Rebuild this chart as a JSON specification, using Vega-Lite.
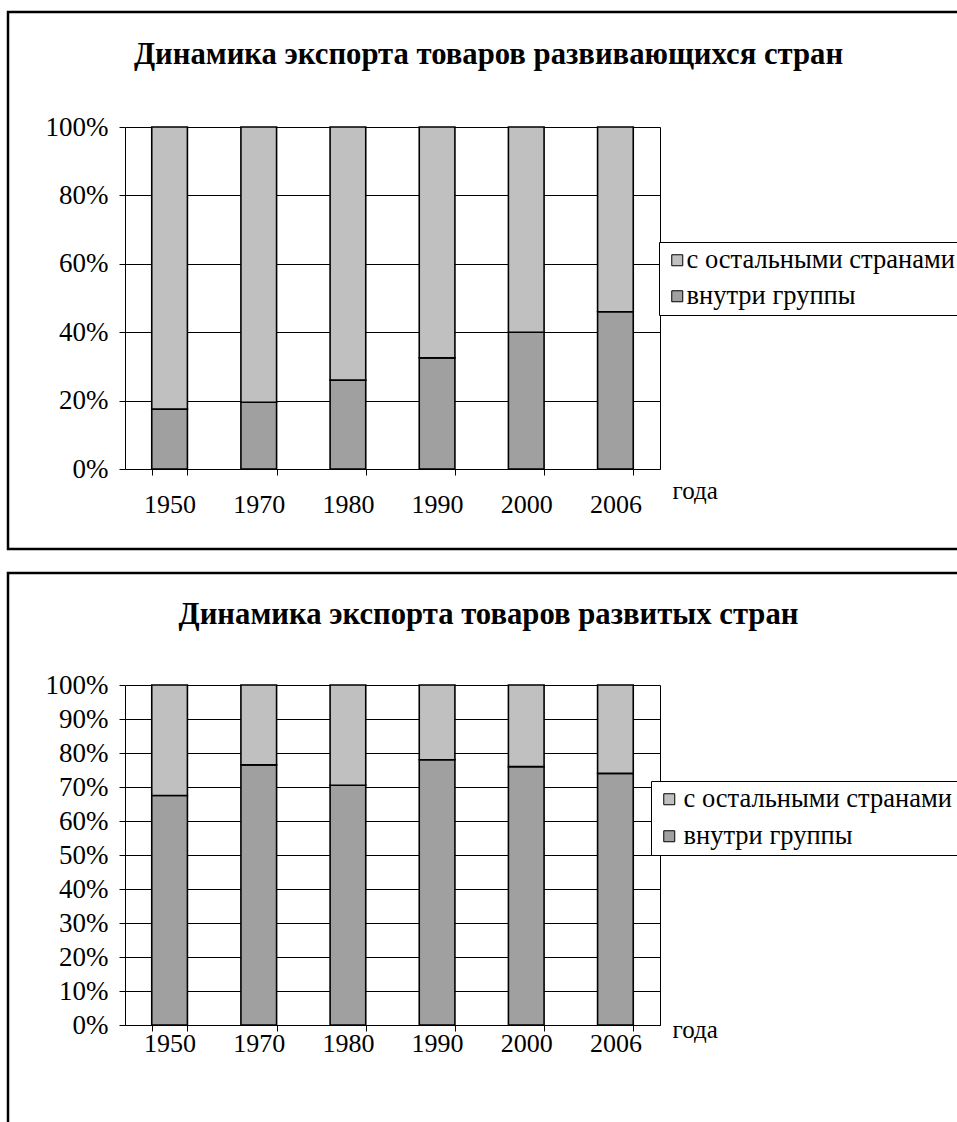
{
  "$schema": "https://vega.github.io/schema/vega-lite/v6.json",
  "padding": {"left": 6, "top": 10, "right": 0, "bottom": 0},
  "background": "#ffffff",
  "spacing": 20,
  "datasets": {
    "developing": [
      {"year": "1950", "series": "внутри группы", "share": 0.175},
      {"year": "1950", "series": "с остальными странами", "share": 0.825},
      {"year": "1970", "series": "внутри группы", "share": 0.195},
      {"year": "1970", "series": "с остальными странами", "share": 0.805},
      {"year": "1980", "series": "внутри группы", "share": 0.26},
      {"year": "1980", "series": "с остальными странами", "share": 0.74},
      {"year": "1990", "series": "внутри группы", "share": 0.325},
      {"year": "1990", "series": "с остальными странами", "share": 0.675},
      {"year": "2000", "series": "внутри группы", "share": 0.40},
      {"year": "2000", "series": "с остальными странами", "share": 0.60},
      {"year": "2006", "series": "внутри группы", "share": 0.46},
      {"year": "2006", "series": "с остальными странами", "share": 0.54}
    ],
    "developed": [
      {"year": "1950", "series": "внутри группы", "share": 0.675},
      {"year": "1950", "series": "с остальными странами", "share": 0.325},
      {"year": "1970", "series": "внутри группы", "share": 0.765},
      {"year": "1970", "series": "с остальными странами", "share": 0.235},
      {"year": "1980", "series": "внутри группы", "share": 0.705},
      {"year": "1980", "series": "с остальными странами", "share": 0.295},
      {"year": "1990", "series": "внутри группы", "share": 0.78},
      {"year": "1990", "series": "с остальными странами", "share": 0.22},
      {"year": "2000", "series": "внутри группы", "share": 0.76},
      {"year": "2000", "series": "с остальными странами", "share": 0.24},
      {"year": "2006", "series": "внутри группы", "share": 0.74},
      {"year": "2006", "series": "с остальными странами", "share": 0.26}
    ]
  },
  "vconcat": [
    {
      "width": 961,
      "height": 537,
      "title": {"text": "Динамика экспорта товаров развивающихся стран", "font": "Liberation Serif", "fontSize": 30.7, "fontWeight": "bold", "color": "#000", "anchor": "middle", "frame": "group", "offset": -59},
      "data": {"name": "developing"},
      "layer": [
        {
          "mark": {"type": "bar", "stroke": "#000", "strokeWidth": 1.6},
          "encoding": {
            "x": {"field": "year", "type": "ordinal",
              "scale": {"range": [117, 652], "paddingInner": 0.6, "paddingOuter": 0.3},
              "axis": {"orient": "bottom", "offset": -80, "tickBand": "extent", "labelAngle": 0, "labelFont": "Liberation Serif", "labelFontSize": 26, "labelColor": "#000", "labelPadding": 16, "tickSize": 6, "tickColor": "#000", "domainColor": "#000", "grid": false,
                "title": "года", "titleFont": "Liberation Serif", "titleFontSize": 25, "titleFontWeight": "normal", "titleColor": "#000", "titleAlign": "left", "titleBaseline": "middle", "titleX": 664, "titleY": 21}},
            "y": {"field": "share", "type": "quantitative", "stack": "zero",
              "scale": {"domain": [0, 1], "range": [457, 115], "nice": false},
              "axis": {"orient": "left", "offset": -117, "values": [0, 0.2, 0.4, 0.6, 0.8, 1], "format": ".0%", "title": null, "labelFont": "Liberation Serif", "labelFontSize": 27, "labelColor": "#000", "labelPadding": 11, "tickSize": 6, "tickColor": "#000", "domainColor": "#000", "grid": true, "gridColor": "#000", "gridWidth": 1}},
            "color": {"field": "series", "type": "nominal",
              "scale": {"domain": ["с остальными странами", "внутри группы"], "range": ["#C0C0C0", "#A0A0A0"]},
              "legend": {"orient": "none", "legendX": 651, "legendY": 230, "title": null, "labelFont": "Liberation Serif", "labelFontSize": 26.5, "labelColor": "#000", "symbolType": "square", "symbolSize": 121, "symbolStrokeColor": "#000", "symbolStrokeWidth": 1, "strokeColor": "#000", "fillColor": "#fff", "padding": 5, "rowPadding": 9, "labelOffset": -4, "labelLimit": 400}},
            "order": {"field": "series", "sort": "ascending"}
          }
        },
        {
          "mark": {"type": "rule", "opacity": 0},
          "encoding": {
            "y": {"datum": 1, "type": "quantitative",
              "axis": {"orient": "right", "offset": -309, "labels": false, "ticks": false, "grid": false, "domain": true, "domainColor": "#000", "title": null}}
          }
        }
      ],
      "resolve": {"axis": {"y": "independent"}}
    },
    {
      "width": 961,
      "height": 560,
      "title": {"text": "Динамика экспорта товаров развитых стран", "font": "Liberation Serif", "fontSize": 30.7, "fontWeight": "bold", "color": "#000", "anchor": "middle", "frame": "group", "offset": -58},
      "data": {"name": "developed"},
      "layer": [
        {
          "mark": {"type": "bar", "stroke": "#000", "strokeWidth": 1.6},
          "encoding": {
            "x": {"field": "year", "type": "ordinal",
              "scale": {"range": [117, 652], "paddingInner": 0.6, "paddingOuter": 0.3},
              "axis": {"orient": "bottom", "offset": -108, "tickBand": "extent", "labelAngle": 0, "labelFont": "Liberation Serif", "labelFontSize": 26, "labelColor": "#000", "labelPadding": -1, "tickSize": 6, "tickColor": "#000", "domainColor": "#000", "grid": false,
                "title": "года", "titleFont": "Liberation Serif", "titleFontSize": 25, "titleFontWeight": "normal", "titleColor": "#000", "titleAlign": "left", "titleBaseline": "middle", "titleX": 664, "titleY": 4}},
            "y": {"field": "share", "type": "quantitative", "stack": "zero",
              "scale": {"domain": [0, 1], "range": [452, 112], "nice": false},
              "axis": {"orient": "left", "offset": -117, "values": [0, 0.1, 0.2, 0.3, 0.4, 0.5, 0.6, 0.7, 0.8, 0.9, 1], "format": ".0%", "title": null, "labelFont": "Liberation Serif", "labelFontSize": 27, "labelColor": "#000", "labelPadding": 11, "tickSize": 6, "tickColor": "#000", "domainColor": "#000", "grid": true, "gridColor": "#000", "gridWidth": 1}},
            "color": {"field": "series", "type": "nominal",
              "scale": {"domain": ["с остальными странами", "внутри группы"], "range": ["#C0C0C0", "#A0A0A0"]},
              "legend": {"orient": "none", "legendX": 643, "legendY": 208, "title": null, "labelFont": "Liberation Serif", "labelFontSize": 26.5, "labelColor": "#000", "symbolType": "square", "symbolSize": 121, "symbolStrokeColor": "#000", "symbolStrokeWidth": 1, "strokeColor": "#000", "fillColor": "#fff", "padding": 5, "rowPadding": 10, "labelOffset": 1, "labelLimit": 400}},
            "order": {"field": "series", "sort": "ascending"}
          }
        },
        {
          "mark": {"type": "rule", "opacity": 0},
          "encoding": {
            "y": {"datum": 1, "type": "quantitative",
              "axis": {"orient": "right", "offset": -309, "labels": false, "ticks": false, "grid": false, "domain": true, "domainColor": "#000", "title": null}}
          }
        }
      ],
      "resolve": {"axis": {"y": "independent"}}
    }
  ],
  "resolve": {"scale": {"color": "independent"}, "legend": {"color": "independent"}},
  "config": {
    "view": {"stroke": "#000", "strokeWidth": 2.5},
    "font": "Liberation Serif",
    "axis": {"labelFont": "Liberation Serif", "titleFont": "Liberation Serif"},
    "legend": {"labelFont": "Liberation Serif", "titleFont": "Liberation Serif"},
    "title": {"font": "Liberation Serif"}
  }
}
